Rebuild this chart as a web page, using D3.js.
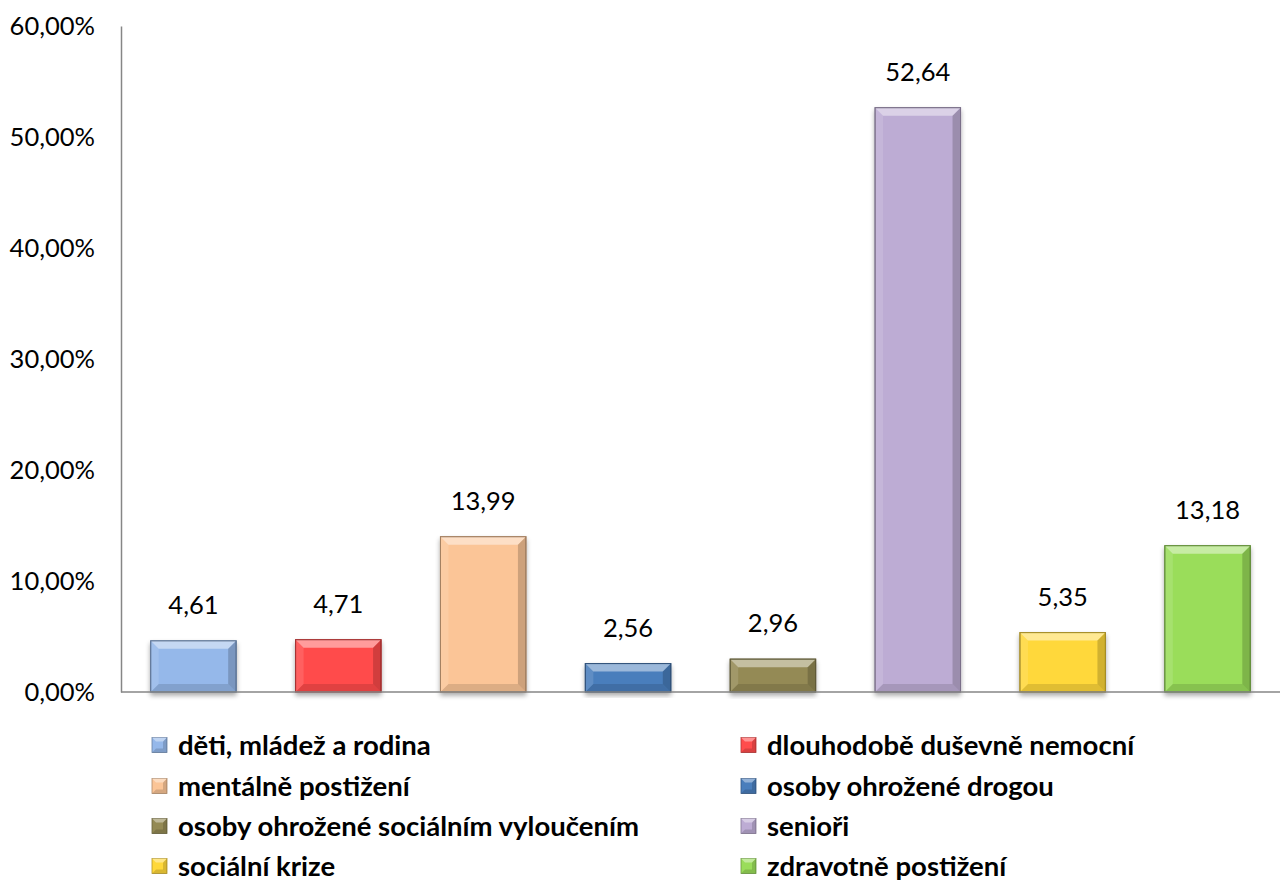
<!DOCTYPE html>
<html><head><meta charset="utf-8">
<script src="https://cdn.jsdelivr.net/npm/d3@7"></script>
<style>body{margin:0;background:#fff;} svg{display:block;}</style>
</head><body>
<svg id="c" width="1280" height="886"></svg>
<script>
const categories = ["děti, mládež a rodina","dlouhodobě duševně nemocní","mentálně postižení","osoby ohrožené drogou","osoby ohrožené sociálním vyloučením","senioři","sociální krize","zdravotně postižení"];
const values = [4.61, 4.71, 13.99, 2.56, 2.96, 52.64, 5.35, 13.18];
const colors = ["#95B8EA","#FF4C4C","#FBC597","#4A7EBC","#948A54","#BDACD4","#FFD83A","#9ADD5A"];
const yTicks = [0,10,20,30,40,50,60];

(function(){
const svg = d3.select("#c");
const font = "Lato, 'Open Sans', sans-serif";
const mLeft = 121, mRight = 1280, mTop = 26, mBottom = 692;
const x = d3.scaleBand().domain(categories).range([mLeft, mRight]).paddingInner(0.41).paddingOuter(0.205);
const y = d3.scaleLinear().domain([0,60]).range([mBottom, mTop]);

const defs = svg.append("defs");
const f = defs.append("filter").attr("id","sh").attr("x","-20%").attr("y","-20%").attr("width","140%").attr("height","140%");
f.append("feGaussianBlur").attr("in","SourceAlpha").attr("stdDeviation",2.5);
f.append("feOffset").attr("dx",0).attr("dy",3).attr("result","b");
f.append("feComponentTransfer").append("feFuncA").attr("type","linear").attr("slope",0.35);
const m = f.append("feMerge"); m.append("feMergeNode"); m.append("feMergeNode").attr("in","SourceGraphic");

const yAxis = svg.append("g").attr("transform",`translate(${mLeft},0)`)
  .call(d3.axisLeft(y).tickValues(yTicks).tickSize(0).tickPadding(26).tickFormat(d => d3.format(".2f")(d).replace(".",",")+"%"));
yAxis.select(".domain").attr("stroke","#868686").attr("stroke-width",1.5);
yAxis.selectAll("text").attr("font-family",font).attr("font-size",25.5).attr("fill","#000");

function bevel(g, x0, y0, w, h, col, b, sw) {
  const c = d3.color(col);
  g.append("rect").attr("x",x0).attr("y",y0).attr("width",w).attr("height",h).attr("fill",col)
    .attr("stroke",c.darker(1.2)).attr("stroke-width",sw).attr("filter","url(#sh)");
  const bb = Math.min(b, h/2, w/2);
  const poly = (pts, fill, op) => g.append("polygon").attr("points",pts.map(p=>p.join(",")).join(" ")).attr("fill",fill).attr("opacity",op);
  poly([[x0,y0],[x0+w,y0],[x0+w-bb,y0+bb],[x0+bb,y0+bb]], "#fff", 0.45);
  poly([[x0,y0+h],[x0+w,y0+h],[x0+w-bb,y0+h-bb],[x0+bb,y0+h-bb]], "#000", 0.12);
  poly([[x0,y0],[x0+bb,y0+bb],[x0+bb,y0+h-bb],[x0,y0+h]], "#fff", 0.12);
  poly([[x0+w,y0],[x0+w-bb,y0+bb],[x0+w-bb,y0+h-bb],[x0+w,y0+h]], "#000", 0.18);
  g.append("rect").attr("x",x0).attr("y",y0).attr("width",w).attr("height",h).attr("fill","none")
    .attr("stroke",c.darker(1.2)).attr("stroke-width",sw);
}

const bars = svg.append("g");
categories.forEach((c,i) => {
  const g = bars.append("g");
  const x0 = x(c), w = x.bandwidth(), y0 = y(values[i]), h = mBottom - y0;
  bevel(g, x0, y0, w, h, colors[i], 8, 1);
});

svg.append("line").attr("x1",mLeft).attr("x2",mRight).attr("y1",mBottom).attr("y2",mBottom).attr("stroke","#868686").attr("stroke-width",1.5);

svg.append("g").selectAll("text").data(categories).join("text")
  .attr("x", d => x(d)+x.bandwidth()/2)
  .attr("y", (d,i) => y(values[i]) - 27)
  .attr("text-anchor","middle").attr("font-family",font).attr("font-size",25.5).attr("fill","#000")
  .text((d,i) => d3.format(".2f")(values[i]).replace(".",","));

const leg = svg.append("g");
const colX = [152, 741], rowY = [745, 786, 826, 866];
categories.forEach((c,i) => {
  const cx = colX[i%2], cy = rowY[Math.floor(i/2)];
  const g = leg.append("g");
  const s = 15;
  const x0 = cx, y0 = cy - s/2;
  const col = d3.color(colors[i]);
  g.append("rect").attr("x",x0).attr("y",y0).attr("width",s).attr("height",s).attr("fill",colors[i]).attr("stroke",col.darker(1)).attr("stroke-width",0.8);
  const poly = (pts, fill, op) => g.append("polygon").attr("points",pts.map(p=>p.join(",")).join(" ")).attr("fill",fill).attr("opacity",op);
  const b=4;
  poly([[x0,y0],[x0+s,y0],[x0+s-b,y0+b],[x0+b,y0+b]], "#fff", 0.4);
  poly([[x0,y0+s],[x0+s,y0+s],[x0+s-b,y0+s-b],[x0+b,y0+s-b]], "#000", 0.15);
  poly([[x0+s,y0],[x0+s-b,y0+b],[x0+s-b,y0+s-b],[x0+s,y0+s]], "#000", 0.15);
  g.append("text").attr("x", cx + 26).attr("y", cy).attr("dy","0.35em")
    .attr("font-family",font).attr("font-size",27.5).attr("font-weight","bold").attr("fill","#000").text(c);
});
})();
</script>
</body></html>
